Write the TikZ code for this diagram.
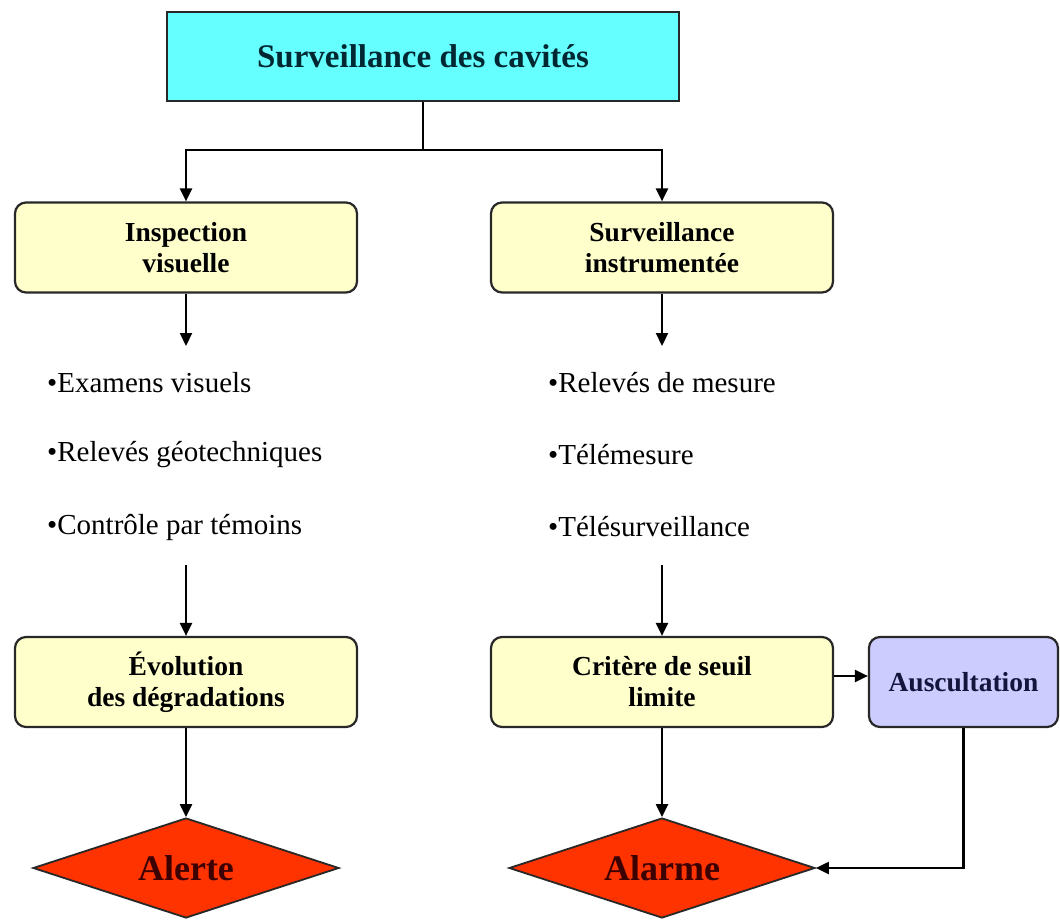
\documentclass[tikz,border=0pt]{standalone}
\usepackage{fontspec}
\setmainfont{Liberation Serif}
\usetikzlibrary{shapes.geometric,arrows.meta}
\definecolor{cyanfill}{RGB}{102,255,255}
\definecolor{yelfill}{RGB}{255,255,204}
\definecolor{lavfill}{RGB}{204,204,255}
\definecolor{redfill}{RGB}{255,51,0}
\definecolor{titletext}{RGB}{0,40,50}
\definecolor{alerttext}{RGB}{60,0,0}
\definecolor{ausctext}{RGB}{20,20,60}
\definecolor{edge}{RGB}{40,40,40}
\begin{document}
\begin{tikzpicture}[x=1pt,y=-1pt,
  titlebox/.style={draw=edge,line width=2.2pt,fill=cyanfill,minimum width=512pt,minimum height=89pt,inner sep=0pt,
    text=titletext,font=\fontsize{33}{38}\selectfont\bfseries},
  ybox/.style={draw=edge,line width=2.2pt,fill=yelfill,rounded corners=11pt,minimum width=342pt,minimum height=90pt,
    inner sep=0pt,align=center,font=\fontsize{27.5}{31}\selectfont\bfseries},
  lbox/.style={draw=edge,line width=2.2pt,fill=lavfill,rounded corners=11pt,minimum width=189pt,minimum height=90pt,
    inner sep=0pt,align=center,text=ausctext,font=\fontsize{27.5}{31}\selectfont\bfseries},
  dia/.style={diamond,aspect=3.06,draw=edge,line width=1.8pt,fill=redfill,minimum width=306pt,minimum height=100pt,
    inner sep=0pt,text=alerttext,font=\fontsize{36}{40}\selectfont\bfseries},
  item/.style={anchor=west,inner sep=0pt,font=\fontsize{29}{33}\selectfont},
  arr/.style={line width=2.2pt,-{Triangle[length=13pt,width=12pt]}},
  ln/.style={line width=2.2pt}]
\useasboundingbox (0,0) rectangle (1060,920);
\fill[white] (0,0) rectangle (1060,920);

\node[titlebox] (top) at (423,56.5) {Surveillance des cavités};
\node[ybox] (insp) at (186,247.5) {Inspection\\visuelle};
\node[ybox] (surv) at (662,247.5) {Surveillance\\instrumentée};

\coordinate (split) at (423,150);
\draw[ln] (top.south) -- (split);
\draw[arr] (split) -| (insp.north);
\draw[arr] (split) -| (surv.north);

\coordinate (ia) at (186,346);
\coordinate (sa) at (662,346);
\draw[arr] (insp.south) -- (ia);
\draw[arr] (surv.south) -- (sa);

\node[item] (l1) at (47,383) {•Examens visuels};
\node[item] (l2) at (47,455) {•Relevés géotechniques};
\node[item] (l3) at (47,527) {•Contrôle par témoins};
\node[item] (r1) at (548,383) {•Relevés de mesure};
\node[item] (r2) at (548,455) {•Télémesure};
\node[item] (r3) at (548,527) {•Télésurveillance};

\node[ybox] (evo) at (186,682) {Évolution\\des dégradations};
\node[ybox] (crit) at (662,682) {Critère de seuil\\limite};
\node[lbox] (ausc) at (963.5,682) {Auscultation};

\coordinate (ib) at (186,565);
\coordinate (sb) at (662,565);
\draw[arr] (ib) -- (evo.north);
\draw[arr] (sb) -- (crit.north);

\draw[arr] ([yshift=6pt]crit.east) -- ([yshift=6pt]ausc.west);

\node[dia] (alerte) at (186,868) {Alerte};
\node[dia] (alarme) at (662,868) {Alarme};

\draw[arr] (evo.south) -- (alerte.north);
\draw[arr] (crit.south) -- (alarme.north);
\draw[arr] (ausc.south) |- (alarme.east);
\end{tikzpicture}
\end{document}
